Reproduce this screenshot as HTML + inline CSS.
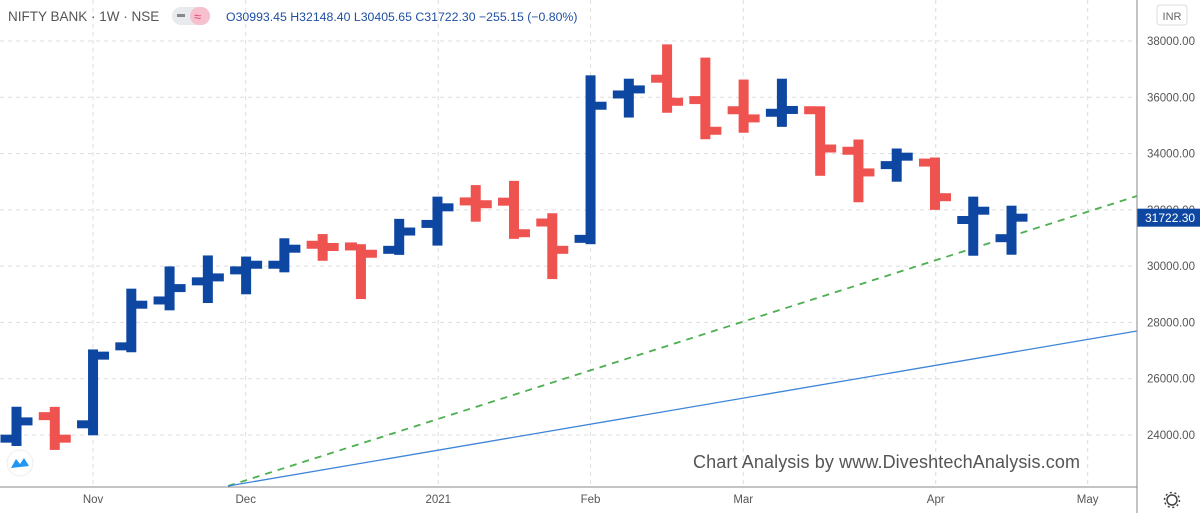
<!DOCTYPE html>
<html><head><meta charset="utf-8"><style>
body{margin:0;background:#fff;font-family:"Liberation Sans",sans-serif;}
svg{display:block}
</style></head><body>
<svg id="c" width="1200" height="513" xmlns="http://www.w3.org/2000/svg">
<rect width="1200" height="513" fill="#fff"/>
<g id="grid"></g>
<g id="lines"></g>
<g id="bars"></g>
<g id="yax"></g>
<g id="xax"></g>
<line x1="1137" y1="0" x2="1137" y2="513" stroke="#888" stroke-width="1"/>
<line x1="0" y1="487" x2="1137" y2="487" stroke="#888" stroke-width="1"/>
<text x="8" y="21" font-size="13.5" fill="#555">NIFTY BANK · 1W · NSE</text>
<rect x="172" y="7" width="38" height="18" rx="9" fill="#e8eaed"/>
<rect x="190" y="7" width="20" height="18" rx="9" fill="#f7c0cf"/>
<rect x="177" y="14" width="8" height="3" fill="#888"/>
<text x="194" y="21" font-size="13" fill="#e0457b">≈</text>
<text x="226" y="21" font-size="12.3" fill="#1e4fa3">O30993.45  H32148.40  L30405.65  C31722.30  −255.15 (−0.80%)</text>
<rect x="1157" y="5" width="30" height="20" rx="3" fill="#fff" stroke="#ddd"/>
<text x="1172" y="20" font-size="11" fill="#666" text-anchor="middle">INR</text>
<text x="693" y="468" font-size="18" fill="#555" textLength="387">Chart Analysis by www.DiveshtechAnalysis.com</text>
<circle cx="20" cy="463" r="13" fill="#fff" stroke="#eee"/>
<path d="M11 468 L16 459 L20 464 L24 458 L29 466 Z" fill="#2196f3"/>
<g><circle cx="1172" cy="500" r="5" fill="none" stroke="#444" stroke-width="1.5"/><circle cx="1172" cy="500" r="7.5" fill="none" stroke="#444" stroke-width="1.5" stroke-dasharray="2 2.7"/></g>
</svg>
<script>
const opens =[23870,24670,24380,27150,28780,29460,29850,30050,30760,30700,30580,31500,32300,32290,31550,30970,36100,36660,35900,35540,35450,35540,34100,33590,33680,31640,30993.45];
const highs =[25004,25000,27040,29200,29990,30380,30340,30990,31140,30780,31680,32470,32880,33030,31880,36780,36660,37880,37410,36630,36660,35680,34500,34180,33860,32470,32148.40];
const lows  =[23610,23470,23990,26940,28430,28690,29000,29780,30190,28830,30400,30730,31580,30970,29540,30780,35280,35450,34510,34740,34950,33210,32270,33000,32000,30370,30405.65];
const closes=[24484,23870,26820,28630,29220,29600,30050,30620,30680,30440,31230,32090,32200,31170,30580,35700,36280,35840,34810,35250,35550,34180,33330,33890,32450,31970,31722.30];
const yTicks=[24000,26000,28000,30000,32000,34000,36000,38000];
const xLabels=["Nov","Dec","2021","Feb","Mar","Apr","May"];
const xLabelWeeks=[2,5.99,11.02,15,18.99,24.02,27.99];
const lastPrice=31722.30;
const NS="http://www.w3.org/2000/svg";
const y=v=>41+(38000-v)*0.028143;
const x=i=>16.5+i*38.27;
function mk(t,a,p){const e=document.createElementNS(NS,t);for(const k in a)e.setAttribute(k,a[k]);p.appendChild(e);return e;}
const grid=document.getElementById('grid'),yax=document.getElementById('yax'),xax=document.getElementById('xax'),bars=document.getElementById('bars'),lines=document.getElementById('lines');
yTicks.forEach(v=>{
  const l=mk('line',{x1:0,x2:1137,y1:y(v),y2:y(v),stroke:'#ddd','stroke-dasharray':'4 4'},grid);
  
  
  const t=mk('text',{x:1147,y:y(v)+4,'font-size':11.5,fill:'#555'},yax);
  t.textContent=v.toFixed(2);
  
  
});
xLabels.forEach((s,i)=>{
  const px=x(xLabelWeeks[i]);
  const l=mk('line',{x1:px,x2:px,y1:0,y2:487,stroke:'#ddd','stroke-dasharray':'4 4'},grid);
  
  
  const t=mk('text',{x:px,y:503,'font-size':11.5,fill:'#555','text-anchor':'middle'},xax);
  t.textContent=s;
  
  
});
const tl1=mk('line',{x1:228,y1:486,x2:1137,y2:196,stroke:'#4caf50','stroke-width':1.8,'stroke-dasharray':'7 6'},lines);


const tl2=mk('line',{x1:228,y1:486,x2:1137,y2:331,stroke:'#3d85d8','stroke-width':1.3},lines);


opens.forEach((o,i)=>{
  const c=closes[i],cx=x(i),col=c>=o?'#0d47a1':'#ef5350';
  const g=mk('g',{fill:col},bars);
  
  
  mk('rect',{x:cx-5,y:y(highs[i]),width:10,height:y(lows[i])-y(highs[i])},g);
  mk('rect',{x:cx-16,y:y(o)-4,width:12,height:8},g);
  mk('rect',{x:cx+4,y:y(c)-4,width:12,height:8},g);
});
const py=y(lastPrice);
const pb=mk('rect',{x:1137,y:py-9,width:63,height:18,fill:'#0d47a1'},yax);


const pt=mk('text',{x:1145,y:py+4.5,'font-size':12,fill:'#fff'},yax);
pt.textContent=lastPrice.toFixed(2);
</script>
</body></html>
